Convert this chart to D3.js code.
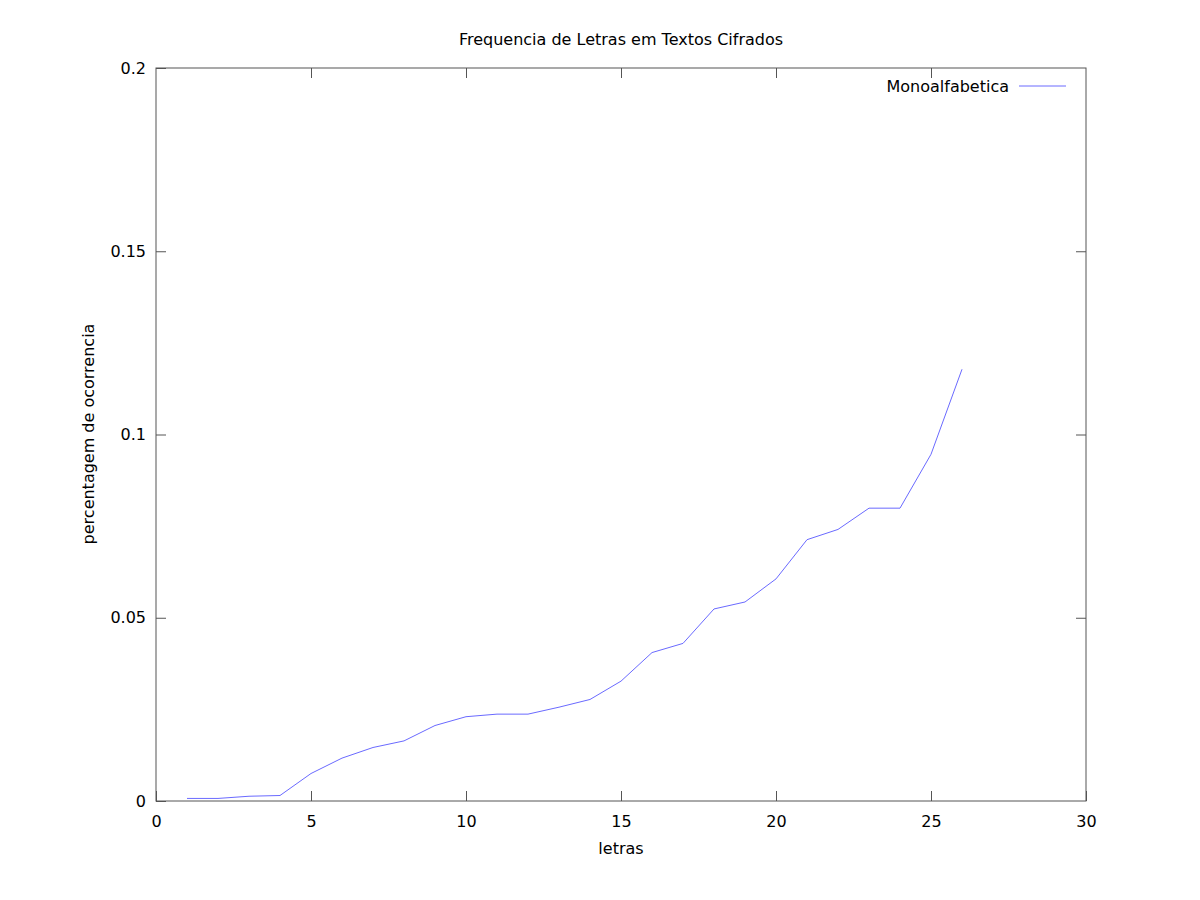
<!DOCTYPE html>
<meta charset="utf-8">
<style>
    body { margin: 0; background: #fff; }
    text { font-family: "DejaVu Sans", sans-serif; fill: #000; }
</style>
<script src="https://d3js.org/d3.v7.min.js"></script>
<div id="chart"></div>
<script>
    // letters (rank) and their frequency, sorted
    var letras = [1,2,3,4,5,6,7,8,9,10,11,12,13,14,15,16,17,18,19,20,21,22,23,24,25,26];
    var freq = [0.0007,0.0007,0.0013,0.0015,0.0075,0.0117,0.0146,0.0164,0.0206,0.0230,
                0.0237,0.0237,0.0256,0.0277,0.0327,0.0405,0.0430,0.0524,0.0543,0.0606,
                0.0713,0.0741,0.0799,0.0799,0.0946,0.1178];
    var xTicks = [0,5,10,15,20,25,30];
    var yTicks = [0,0.05,0.1,0.15,0.2];
    var yTickLabels = ["0","0.05","0.1","0.15","0.2"];
    var serie = "Monoalfabetica";

    var W = 1200, H = 900;
    var mLeft = 156, mRight = 1086, mTop = 68, mBottom = 801;

    var svg = d3.select("#chart").append("svg").attr("width", W).attr("height", H);

    var x = d3.scaleLinear().domain([0, 30]).range([mLeft, mRight]);
    var y = d3.scaleLinear().domain([0, 0.2]).range([mBottom, mTop]);

    var axisColor = "#555";

    // ticks, inward on all sides (gnuplot style)
    var tl = 10;
    function styleAxis(g) {
        g.select(".domain").remove();
        g.selectAll(".tick line").attr("stroke", axisColor);
        g.selectAll(".tick text").style("font-size", "16px");
    }
    svg.append("g").attr("transform", "translate(0," + mBottom + ")")
        .call(d3.axisBottom(x).tickValues(xTicks).tickSizeInner(-tl).tickPadding(15).tickFormat(d3.format("d")))
        .call(styleAxis);
    svg.append("g").attr("transform", "translate(0," + mTop + ")")
        .call(d3.axisTop(x).tickValues(xTicks.slice(1, -1)).tickSizeInner(-tl).tickFormat(""))
        .call(styleAxis);
    svg.append("g").attr("transform", "translate(" + mLeft + ",0)")
        .call(d3.axisLeft(y).tickValues(yTicks).tickSizeInner(-tl).tickPadding(10)
              .tickFormat(function(d, i) { return yTickLabels[i]; }))
        .call(styleAxis);
    svg.append("g").attr("transform", "translate(" + mRight + ",0)")
        .call(d3.axisRight(y).tickValues(yTicks.slice(1, -1)).tickSizeInner(-tl).tickFormat(""))
        .call(styleAxis);

    // border
    svg.append("rect").attr("x", mLeft).attr("y", mTop)
        .attr("width", mRight - mLeft).attr("height", mBottom - mTop)
        .attr("fill", "none").attr("stroke", axisColor).attr("stroke-width", 1);

    // line
    var data = letras.map(function(d, i) { return [d, freq[i]]; });
    svg.append("path").datum(data)
        .attr("fill", "none").attr("stroke", "#6a6aff").attr("stroke-width", 1)
        .attr("d", d3.line().x(function(d) { return x(d[0]); }).y(function(d) { return y(d[1]); }));

    // legend
    svg.append("text").attr("x", 1009).attr("y", 92).attr("text-anchor", "end")
        .style("font-size", "16px").text(serie);
    svg.append("line").attr("x1", 1019).attr("x2", 1066).attr("y1", 86).attr("y2", 86)
        .attr("stroke", "#6a6aff").attr("stroke-width", 1);

    // titles
    svg.append("text").attr("x", 621).attr("y", 45).attr("text-anchor", "middle")
        .style("font-size", "16px").text("Frequencia de Letras em Textos Cifrados");
    svg.append("text").attr("x", 621).attr("y", 854).attr("text-anchor", "middle")
        .style("font-size", "16px").text("letras");
    svg.append("text").attr("transform", "translate(94,434) rotate(-90)").attr("text-anchor", "middle")
        .style("font-size", "16px").text("percentagem de ocorrencia");
</script>
